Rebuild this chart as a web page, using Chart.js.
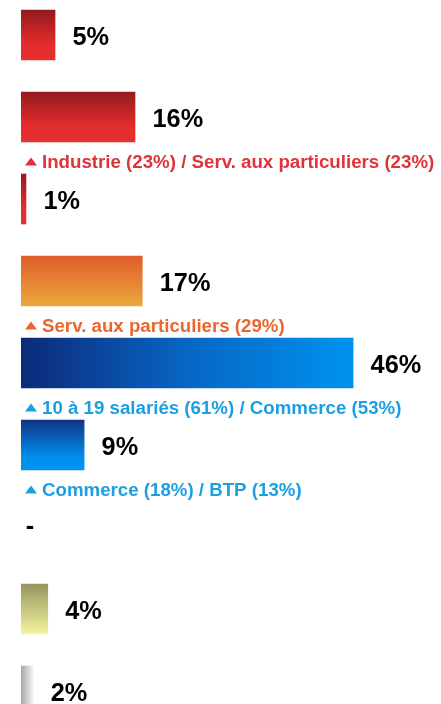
<!DOCTYPE html>
<html>
<head>
<meta charset="utf-8">
<script src="https://cdn.jsdelivr.net/npm/chart.js@4/dist/chart.umd.min.js"></script>
<style>
  html, body { margin: 0; padding: 0; background: #fff; overflow: hidden; }
  #wrap { position: absolute; left: 0; top: -6px; width: 441px; height: 738px; }
</style>
</head>
<body>
<div id="wrap"><canvas id="barChart"></canvas></div>
<script>
// data
const categories = ["1", "2", "3", "4", "5", "6", "7", "8", "9"];
const values = [5, 16, 1, 17, 46, 9, 0, 4, 2];
const notes = [
    null,
    "Industrie (23%) / Serv. aux particuliers (23%)",
    null,
    "Serv. aux particuliers (29%)",
    "10 à 19 salariés (61%) / Commerce (53%)",
    "Commerce (18%) / BTP (13%)",
    null,
    null,
    null
];

// styles
const RED = [[0, "#931a1e"], [0.65, "#e12b2c"], [1, "#e8302f"]];
const barFills = [
    { dir: "v", stops: RED },
    { dir: "v", stops: RED },
    { dir: "v", stops: RED },
    { dir: "v", stops: [[0, "#e05d29"], [1, "#eca83d"]] },
    { dir: "h", stops: [[0, "#0d2a7a"], [0.5, "#0766c4"], [1, "#0092ee"]] },
    { dir: "v", stops: [[0, "#0e3485"], [0.75, "#0090ee"], [1, "#0092f0"]] },
    { dir: "v", stops: [[0, "#cccccc"], [1, "#eeeeee"]] },
    { dir: "v", stops: [[0, "#959560"], [1, "#f5f59d"]] },
    { dir: "h", stops: [[0, "#a8a8a8"], [1, "#f4f4f4"]] }
];
const noteColors = [null, "#e3313a", null, "#e9672e", "#1b9fe3", "#1b9fe3", null, null, null];

const FONT = "'Liberation Sans', Arial, sans-serif";

const barFill = (ctx) => {
    if (ctx.type !== "data") return "#ccc";
    const chart = ctx.chart;
    if (!chart.chartArea) return "#ccc";
    const i = ctx.dataIndex;
    const xs = chart.scales.x, ys = chart.scales.y;
    const y = ys.getPixelForValue(i);
    const x0 = xs.getPixelForValue(xs.min);
    const x1 = xs.getPixelForValue(values[i]);
    const f = barFills[i];
    const g = f.dir === "h"
        ? chart.ctx.createLinearGradient(x0, 0, Math.max(x1, x0 + 1), 0)
        : chart.ctx.createLinearGradient(0, y - 25, 0, y + 25);
    f.stops.forEach(s => g.addColorStop(s[0], s[1]));
    return g;
};

// value labels and the notes under some bars
const labelsPlugin = {
    id: "labels",
    afterDatasetsDraw(chart) {
        const c = chart.ctx;
        const meta = chart.getDatasetMeta(0);
        c.save();
        meta.data.forEach((el, i) => {
            const v = values[i];
            c.fillStyle = "#000";
            c.font = "bold 25.3px " + FONT;
            c.textAlign = "left";
            c.textBaseline = "alphabetic";
            if (v === 0) {
                c.fillText("-", el.base + 7, el.y + 7);
            } else {
                c.fillText(v + "%", el.x + 17.5, el.y + 10);
            }
            if (notes[i]) {
                const base = el.y + 50.5;
                c.fillStyle = noteColors[i];
                c.beginPath();
                c.moveTo(25, base - 2);
                c.lineTo(37, base - 2);
                c.lineTo(31, base - 10);
                c.closePath();
                c.fill();
                c.font = "bold 18.7px " + FONT;
                c.fillText(notes[i], 42, base);
            }
        });
        c.restore();
    }
};

new Chart(document.getElementById("barChart"), {
    type: "bar",
    data: {
        labels: categories,
        datasets: [
            {
                data: values,
                backgroundColor: barFill,
                borderWidth: 0,
                barThickness: 50
            }
        ]
    },
    options: {
        indexAxis: "y",
        responsive: true,
        maintainAspectRatio: false,
        animation: false,
        layout: { padding: { left: 21, right: 0, top: 0, bottom: 0 } },
        plugins: {
            legend: { display: false },
            tooltip: { enabled: false }
        },
        scales: {
            x: { display: false, min: 0.32, max: 58.09 },
            y: { display: false }
        }
    },
    plugins: [labelsPlugin]
});
</script>
</body>
</html>
